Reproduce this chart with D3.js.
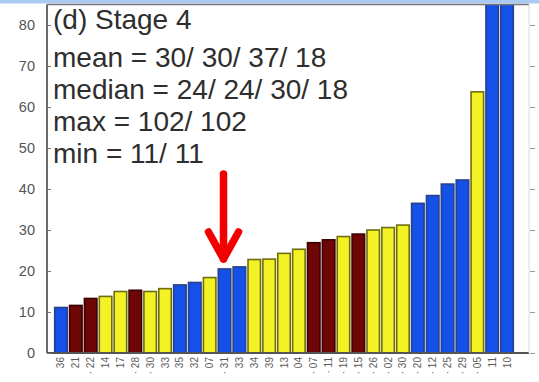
<!DOCTYPE html>
<html>
<head>
<meta charset="utf-8">
<script src="https://cdn.jsdelivr.net/npm/d3@7"></script>
<style>
  html, body { margin: 0; padding: 0; background: #fff; }
  svg { display: block; font-family: "Liberation Sans", Arial, sans-serif; }
</style>
</head>
<body>
<svg id="chart" width="539" height="382"></svg>
<script>
// ---- data ----
const categories = ["36","21","22","14","17","28","30","33","35","32","07","31","33","34","39","13","04","07","11","19","15","26","02","30","20","12","25","29","05","11","10"];
const values = [11.1, 11.6, 13.3, 13.8, 15.0, 15.3, 15.0, 15.7, 16.6, 17.2, 18.4, 20.5, 21.0, 22.8, 22.9, 24.3, 25.3, 26.9, 27.6, 28.4, 29.0, 30.0, 30.6, 31.2, 36.5, 38.4, 41.2, 42.2, 63.7, 102, 102];
const groups = ["b","r","r","y","y","r","y","y","b","b","y","b","b","y","y","y","y","r","r","y","r","y","y","y","b","b","b","b","y","b","b"];
const marked = [0,0,1,0,0,1,1,0,0,0,0,1,0,0,0,0,0,1,1,1,1,1,1,1,1,1,1,1,1,0,0];
const yTicks = [0, 10, 20, 30, 40, 50, 60, 70, 80];
const statLines = ["mean = 30/ 30/ 37/ 18", "median = 24/ 24/ 30/ 18", "max = 102/ 102", "min = 11/ 11"];
const title = "(d) Stage 4";
const highlightIndex = 11;

// ---- layout ----
const svg = d3.select("#chart");
const L = 47, R = 529, T = 4.5, B = 353;
const colors = { b: "#1550e8", r: "#6e0606", y: "#f2f224" };

const x = d3.scaleBand().domain(d3.range(values.length)).range([53.5, 514.5]).paddingInner(0.16).paddingOuter(0.08);
const y = d3.scaleLinear().domain([0, 85]).range([B, T]);

// top light blue band
svg.append("rect").attr("x", 0).attr("y", 0).attr("width", 539).attr("height", 3.5).attr("fill", "#a9cbf2");

svg.append("defs").append("clipPath").attr("id", "plotclip")
  .append("rect").attr("x", L).attr("y", T).attr("width", R - L).attr("height", B - T);

// bars
svg.append("g").attr("clip-path", "url(#plotclip)")
  .selectAll("rect").data(values).join("rect")
  .attr("x", (d, i) => x(i))
  .attr("y", d => y(d))
  .attr("width", x.bandwidth())
  .attr("height", d => B - y(d))
  .attr("fill", (d, i) => colors[groups[i]])
  .attr("stroke", (d, i) => groups[i] === "y" ? "#6e6e10" : (groups[i] === "b" ? "#27418a" : "#3a0202"))
  .attr("stroke-width", 1.6);

// axes box
const ax = svg.append("g");
ax.append("line").attr("x1", L).attr("x2", L).attr("y1", T).attr("y2", B).attr("stroke", "#6a6a6a").attr("stroke-width", 2);
ax.append("line").attr("x1", L).attr("x2", R).attr("y1", B).attr("y2", B).attr("stroke", "#555").attr("stroke-width", 2);
ax.append("line").attr("x1", L).attr("x2", R).attr("y1", T).attr("y2", T).attr("stroke", "#777").attr("stroke-width", 1.5);
ax.append("line").attr("x1", R).attr("x2", R).attr("y1", T).attr("y2", B).attr("stroke", "#d8d8d8").attr("stroke-width", 1);

// left y axis with d3 axis
const yAxis = d3.axisLeft(y).tickValues(yTicks).tickSize(-4).tickPadding(12).tickFormat(d3.format("d"));
const gy = svg.append("g").attr("transform", `translate(${L},0)`).call(yAxis);
gy.select(".domain").remove();
gy.selectAll(".tick line").attr("stroke", "#777");
gy.selectAll(".tick text").attr("fill", "#555").style("font-size", "14.5px").style("font-family", "'Liberation Sans', Arial, sans-serif");

// right ticks
const yAxisR = d3.axisRight(y).tickValues(yTicks).tickSize(5).tickFormat("");
const gyr = svg.append("g").attr("transform", `translate(${R + 1},0)`).call(yAxisR);
gyr.select(".domain").remove();
gyr.selectAll(".tick line").attr("stroke", "#999");

// x labels (rotated)
const xl = svg.append("g");
xl.selectAll("text").data(categories).join("text")
  .attr("transform", (d, i) => `translate(${x(i) + x.bandwidth() / 2 + 3.5},${B + 4}) rotate(-90)`)
  .attr("text-anchor", "end")
  .attr("fill", "#5a5a5a")
  .style("font-size", "10px")
  .text((d, i) => (marked[i] ? "· " : "") + d);

// text block
const tg = svg.append("g").attr("fill", "#2e2e2e").style("font-size", "28px");
tg.append("text").attr("x", 53).attr("y", 29).text(title);
tg.selectAll("text.stat").data(statLines).join("text").attr("class", "stat")
  .attr("x", 53).attr("y", (d, i) => 67 + i * 32).text(d => d);

// red arrow pointing to highlighted bar
const ax0 = x(highlightIndex) + x.bandwidth() / 2 - 1;
const tipY = y(values[highlightIndex]) - 10;
const arrow = svg.append("g").attr("stroke", "#f20000").attr("stroke-width", 7.5).attr("fill", "none").attr("stroke-linecap", "round").attr("stroke-linejoin", "round");
arrow.append("line").attr("x1", ax0).attr("x2", ax0).attr("y1", 174).attr("y2", tipY);
arrow.append("polyline").attr("points", `${ax0 - 15},${tipY - 27} ${ax0},${tipY} ${ax0 + 15},${tipY - 27}`);
</script>
</body>
</html>
